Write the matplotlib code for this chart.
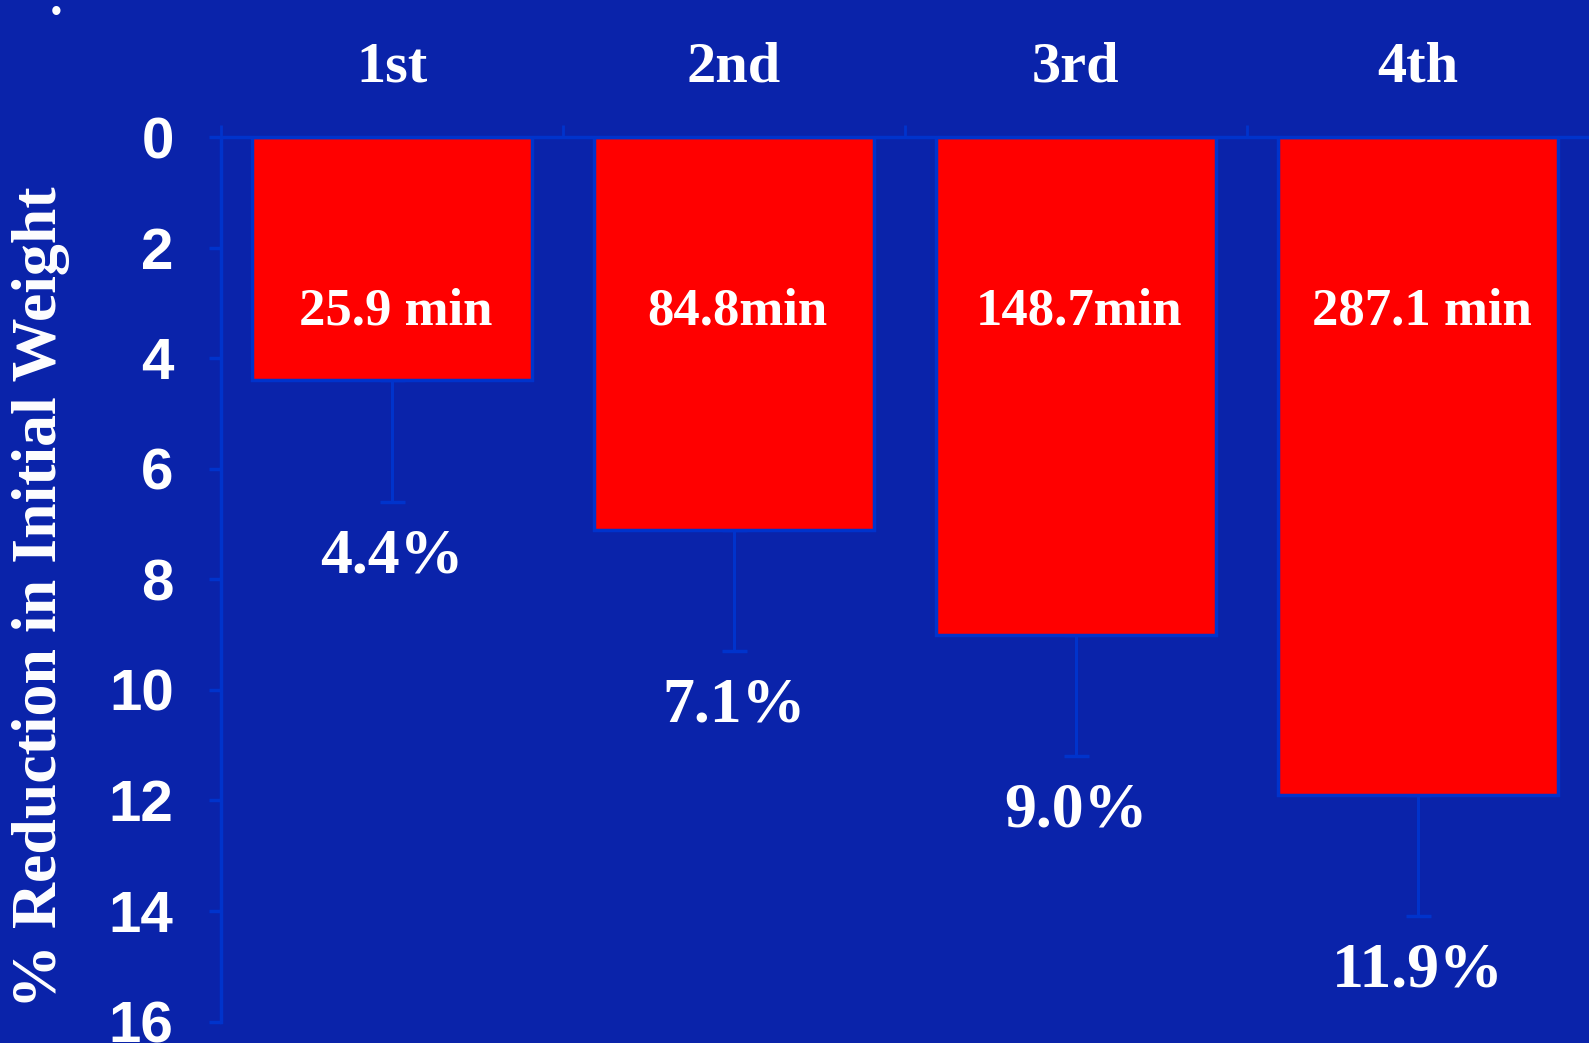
import matplotlib
matplotlib.use("Agg")
import matplotlib.pyplot as plt
import numpy as np

# weight-loss data per session
sessions = ["1st", "2nd", "3rd", "4th"]
reduction = [4.4, 7.1, 9.0, 11.9]          # % reduction in initial weight
reduction_sd = [2.2, 2.2, 2.2, 2.2]
duration_labels = ["25.9 min", "84.8min", "148.7min", "287.1 min"]
y_ticks = [0, 2, 4, 6, 8, 10, 12, 14, 16]

BG = "#0A23AA"
LINE = "#0033CC"
BAR = "#FF0000"
SERIF = ["Liberation Serif", "DejaVu Serif"]
SANS = ["Liberation Sans", "DejaVu Sans"]

fig = plt.figure(figsize=(15.89, 10.43), dpi=100, facecolor=BG)
ax = fig.add_axes([0.139, 0.0206, 0.861, 0.848], facecolor=BG)

x = np.arange(len(sessions))
ax.bar(x, reduction, width=0.82, color=BAR, edgecolor=LINE, linewidth=2.5, zorder=2)

# one-sided error bars, pointing away from the baseline
err = np.vstack([np.zeros(len(reduction_sd)), reduction_sd])
ax.errorbar(x, reduction, yerr=err, fmt="none", ecolor=LINE, elinewidth=2.2,
            capsize=9, capthick=2.5, zorder=1)

for xi, val, sd, dur in zip(x, reduction, reduction_sd, duration_labels):
    ax.text(xi + 0.01, 3.15, dur, ha="center", va="center", color="white",
            fontsize=38, fontweight="bold", family=SERIF, zorder=3)
    ax.text(xi, val + sd + 1.0, f"{val:.1f}%", ha="center", va="center",
            color="white", fontsize=46, fontweight="bold", family=SERIF, zorder=3)

ax.set_xlim(-0.5, 3.5)
ax.set_ylim(16, 0)

# category labels on top, ticks between categories
ax.xaxis.tick_top()
ax.set_xticks(x)
ax.set_xticklabels(sessions, fontsize=42, fontweight="bold", family=SERIF, color="white")
ax.set_xticks(np.arange(-0.5, 3.5, 1.0), minor=True)
ax.tick_params(axis="x", which="major", length=0, pad=31)
ax.tick_params(axis="x", which="minor", length=9, width=2, color=LINE, direction="out")

ax.set_yticks(y_ticks)
ax.set_yticklabels([str(t) for t in y_ticks], fontsize=42, fontweight="bold",
                   family=SANS, color="white")
ax.tick_params(axis="y", length=9, width=2.5, color=LINE, direction="out", pad=25)

for side in ("bottom", "right"):
    ax.spines[side].set_visible(False)
for side in ("top", "left"):
    ax.spines[side].set_color(LINE)
    ax.spines[side].set_linewidth(2.5)

fig.text(0.026, 0.427, "% Reduction in Initial Weight", rotation=90, ha="center",
         va="center", color="white", fontsize=46, fontweight="bold", family=SERIF)
fig.text(0.0355, 0.9875, "\u2022", ha="center", va="center", color="white",
         fontsize=22, family=SANS)

fig.savefig("out.png", dpi=100, facecolor=BG)
